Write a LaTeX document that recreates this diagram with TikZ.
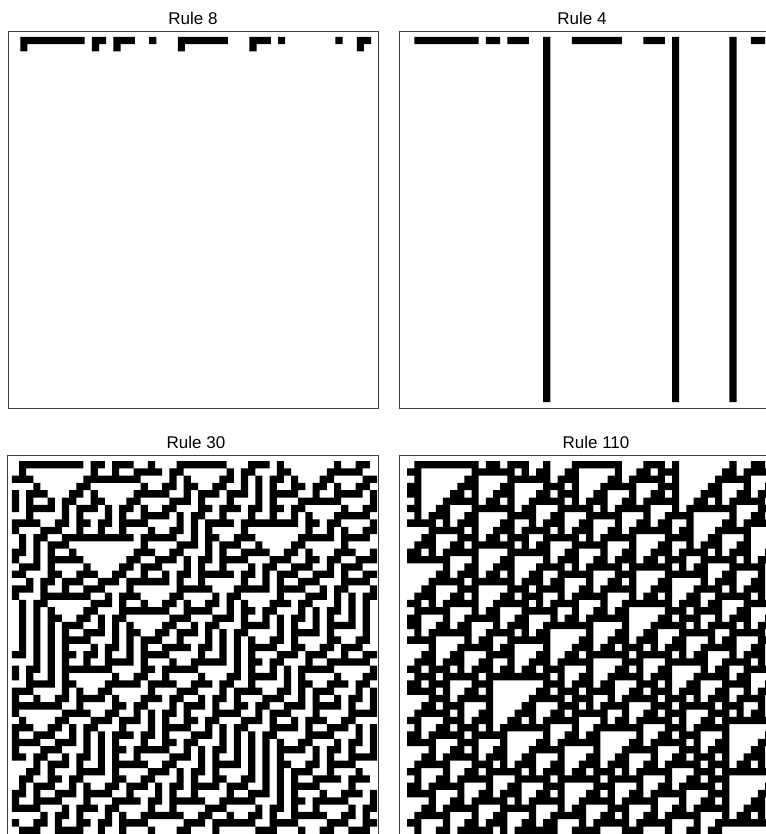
\documentclass[tikz,border=0pt]{standalone}
\usepackage{fontspec}
\setmainfont{Liberation Sans}
\def\CArows{50}
\def\CAinit{0,1,2,3,4,5,6,7,8,10,11,13,14,15,18,22,23,24,25,26,27,28,32,33,34,36,44,47,48}
\def\CAc#1#2{\csname CA@#1@#2\endcsname}
\def\CAsetrule#1{%
  \foreach \k in {0,...,7}{%
    \pgfmathtruncatemacro\CAbit{mod(floor(#1/2^\k),2)}%
    \expandafter\xdef\csname CArule@\k\endcsname{\CAbit}%
  }%
}
\def\CAinitrow{%
  \foreach \ii in {0,...,49}{\expandafter\xdef\csname CA@0@\ii\endcsname{0}}%
  \foreach \ii in \CAinit{\expandafter\xdef\csname CA@0@\ii\endcsname{1}}%
}
\def\CAevolve{%
  \foreach \rr in {1,...,\CArows}{%
    \edef\CApr{\the\numexpr\rr-1\relax}%
    \foreach \ii in {0,...,49}{%
      \edef\CAli{\ifnum\ii=0 49\else\the\numexpr\ii-1\relax\fi}%
      \edef\CAri{\ifnum\ii=49 0\else\the\numexpr\ii+1\relax\fi}%
      \edef\CAidx{\the\numexpr 4*\CAc{\CApr}{\CAli}+2*\CAc{\CApr}{\ii}+\CAc{\CApr}{\CAri}\relax}%
      \expandafter\xdef\csname CA@\rr @\ii\endcsname{\csname CArule@\CAidx\endcsname}%
    }%
  }%
}
% column -1 is drawn as a wrapped copy of column 49
\def\CAbuild{%
  \gdef\CApath{}%
  \foreach \rr in {0,...,\CArows}{%
    \gdef\CArun{-9}%
    \foreach \ii in {-1,...,50}{%
      \ifnum\ii=-1 \edef\CAv{\CAc{\rr}{49}}%
      \else\ifnum\ii<50 \edef\CAv{\CAc{\rr}{\ii}}\else\def\CAv{0}\fi\fi
      \ifnum\CAv=1
        \ifnum\CArun<-5 \xdef\CArun{\ii}\fi
      \else
        \ifnum\CArun>-5
          \xdef\CApath{\CApath (\CArun,\rr) rectangle (\ii,\the\numexpr\rr+1\relax)}%
          \gdef\CArun{-9}%
        \fi
      \fi
    }%
  }%
}
\def\CArule#1{\CAsetrule{#1}\CAinitrow\CAevolve\CAbuild}
\tikzset{
  frame/.style={draw=black!75, line width=1pt},
  title/.style={font=\fontsize{17}{20}\selectfont, anchor=base, inner sep=0pt},
  cells/.style={fill=black}
}
\begin{document}
\begin{tikzpicture}[x=1pt,y=-1pt]
\useasboundingbox (0,0) rectangle (765,834);
% Rule 8
\node[title] (t8) at (193,25) {Rule 8};
\CArule{8}
\begin{scope}
  \clip (8,32) rectangle (378,408);
  \begin{scope}[shift={(20.3,37)},x=7.16pt,y=-7.16pt]
    \expandafter\fill\CApath;
  \end{scope}
\end{scope}
\draw[frame] (8,32) rectangle (378,408);
% Rule 4
\node[title] (t4) at (582,25) {Rule 4};
\CArule{4}
\begin{scope}
  \clip (399.5,32) rectangle (769.5,408);
  \begin{scope}[shift={(414.3,37)},x=7.16pt,y=-7.16pt]
    \expandafter\fill\CApath;
  \end{scope}
\end{scope}
\draw[frame] (399.5,32) rectangle (769.5,408);
% Rule 30
\node[title] (t30) at (196,448) {Rule 30};
\CArule{30}
\begin{scope}
  \clip (7,455) rectangle (378,840);
  \begin{scope}[shift={(19,461)},x=7.16pt,y=-7.31pt]
    \expandafter\fill\CApath;
  \end{scope}
\end{scope}
\draw[frame] (7,455) rectangle (378,840);
% Rule 110
\node[title] (t110) at (596,448) {Rule 110};
\CArule{110}
\begin{scope}
  \clip (399.5,455) rectangle (769.5,840);
  \begin{scope}[shift={(414.3,461)},x=7.16pt,y=-7.31pt]
    \expandafter\fill\CApath;
  \end{scope}
\end{scope}
\draw[frame] (399.5,455) rectangle (769.5,840);
\end{tikzpicture}
\end{document}
